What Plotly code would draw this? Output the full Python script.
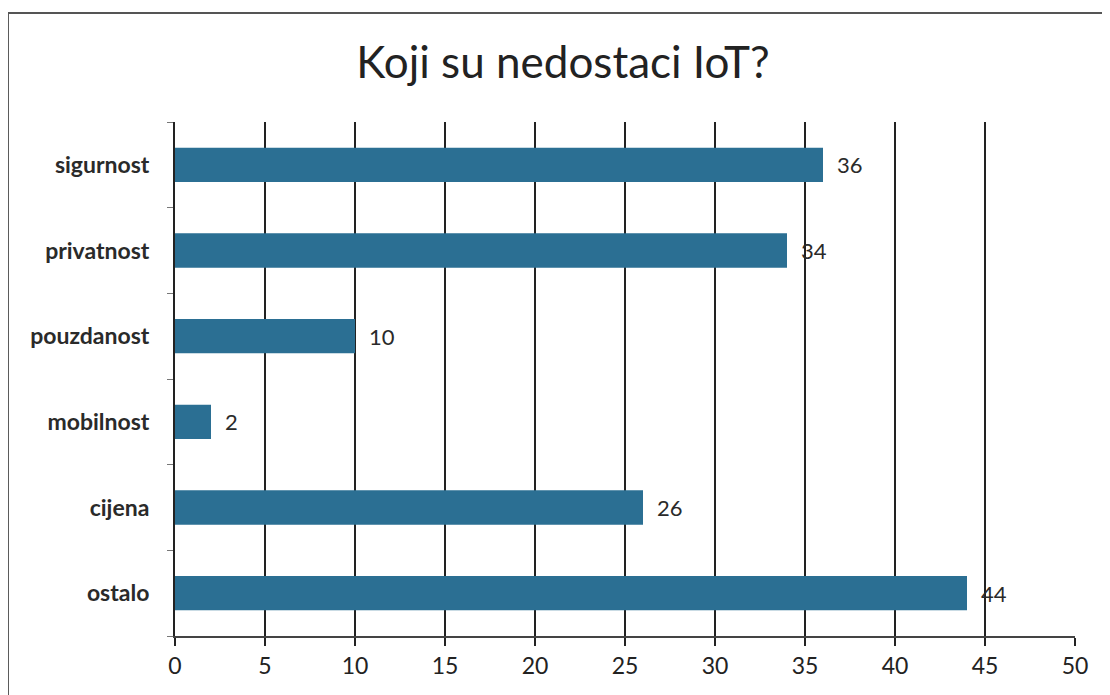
import plotly.graph_objects as go

# data
categories = ['sigurnost', 'privatnost', 'pouzdanost', 'mobilnost', 'cijena', 'ostalo']
values = [36, 34, 10, 2, 26, 44]
x_ticks = [0, 5, 10, 15, 20, 25, 30, 35, 40, 45, 50]

bar_color = '#2B6F93'
text_color = '#2a2a2a'

fig = go.Figure(go.Bar(
    x=values,
    y=categories,
    orientation='h',
    marker=dict(color=bar_color, line=dict(width=0)),
    text=['\u2002' + str(v) for v in values],
    textposition='outside',
    textfont=dict(family='Lato', size=22, color=text_color),
    cliponaxis=False,
    showlegend=False,
))

fig.update_layout(
    width=1110,
    height=695,
    margin=dict(l=167, r=43, t=114, b=67),
    paper_bgcolor='white',
    plot_bgcolor='white',
    bargap=0.6,
    title=dict(
        text='Koji su nedostaci IoT?',
        x=0.5, xanchor='center',
        y=0.922, yanchor='middle',
        font=dict(family='Lato', size=44, color='#222222'),
    ),
    xaxis=dict(
        range=[0, 50],
        tickvals=x_ticks,
        showgrid=True,
        gridcolor='#222222',
        gridwidth=2,
        zeroline=False,
        showline=True,
        linecolor='#444444',
        linewidth=2,
        ticks='outside',
        ticklen=8,
        tickwidth=2,
        tickcolor='#222222',
        tickfont=dict(family='Lato', size=23, color='#222222'),
    ),
    yaxis=dict(
        categoryorder='array',
        categoryarray=categories[::-1],
        tickson='boundaries',
        showgrid=False,
        showline=True,
        linecolor='#222222',
        linewidth=2,
        ticks='outside',
        ticklen=6,
        tickwidth=1,
        tickcolor='#777777',
        ticklabelstandoff=19,
        tickfont=dict(family='Lato', size=23, color=text_color, weight='bold'),
    ),
    shapes=[dict(
        type='rect', xref='paper', yref='paper',
        x0=-0.1856, x1=1.037, y0=-0.2, y1=1.212,
        line=dict(color='#555555', width=2),
        fillcolor='rgba(0,0,0,0)',
        layer='below',
    )],
)

fig.write_html('out.html')
